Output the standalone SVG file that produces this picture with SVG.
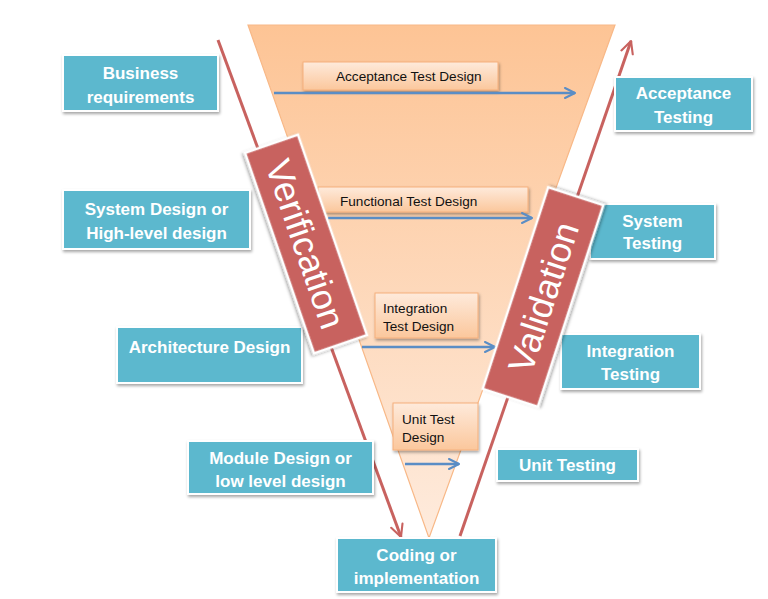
<svg xmlns="http://www.w3.org/2000/svg" width="768" height="599" viewBox="0 0 768 599">
<defs>
<linearGradient id="funnel" x1="0" y1="0" x2="0" y2="1">
<stop offset="0" stop-color="#FDC495"/>
<stop offset="1" stop-color="#FEEBDD"/>
</linearGradient>
<linearGradient id="obox" x1="0" y1="0" x2="0" y2="1">
<stop offset="0" stop-color="#FEEADB"/>
<stop offset="1" stop-color="#FBC79C"/>
</linearGradient>
<filter id="sh" x="-20%" y="-20%" width="140%" height="150%">
<feDropShadow dx="1" dy="2" stdDeviation="1.5" flood-color="#000" flood-opacity="0.35"/>
</filter>
<marker id="ab" viewBox="0 0 10 10" refX="9" refY="5" markerWidth="5" markerHeight="5" orient="auto" markerUnits="strokeWidth">
<path d="M1,1 L9,5 L1,9" fill="none" stroke="#5A8DC5" stroke-width="1.6" stroke-linecap="round" stroke-linejoin="round"/>
</marker>
<marker id="ar" viewBox="0 0 10 10" refX="9" refY="5" markerWidth="5" markerHeight="5" orient="auto" markerUnits="strokeWidth">
<path d="M1,1 L9,5 L1,9" fill="none" stroke="#C8625F" stroke-width="1.4" stroke-linecap="round" stroke-linejoin="round"/>
</marker>
</defs>
<style>
.bb{fill:#5CB8CE;stroke:#fff;stroke-width:2;filter:url(#sh)}
.bt{font-family:"Liberation Sans",Arial,sans-serif;font-weight:bold;font-size:17px;fill:#fff;text-anchor:middle}
.ob{fill:url(#obox);stroke:#F5B07C;stroke-width:1;filter:url(#sh)}
.ot{font-family:"Liberation Sans",Arial,sans-serif;font-size:13.6px;fill:#111}
.rb{fill:#C8625F;stroke:#fff;stroke-width:2.5;filter:url(#sh)}
.rt{font-family:"Liberation Sans",Arial,sans-serif;font-size:36px;fill:#fff;text-anchor:middle}
.ba{stroke:#5A8DC5;stroke-width:2.5;fill:none;marker-end:url(#ab)}
.ra{stroke:#C8625F;stroke-width:3;fill:none;marker-end:url(#ar)}
</style>
<rect width="768" height="599" fill="#fff"/>
<g id="funnel-shape">
<polygon points="248,25 615,25 429,538" fill="url(#funnel)" stroke="#F8B887" stroke-width="1.2"/>
</g>
<g id="acceptance-test-design"><rect class="ob" x="303" y="62" width="195" height="28"/><text class="ot" x="336" y="81">Acceptance Test Design</text></g>
<g id="functional-test-design"><rect class="ob" x="318" y="187" width="210" height="25"/><text class="ot" x="340" y="206">Functional Test Design</text></g>
<g id="integration-test-design"><rect class="ob" x="375" y="293" width="103" height="45"/><text class="ot" x="383" y="313">Integration</text><text class="ot" x="383" y="331">Test Design</text></g>
<g id="unit-test-design"><rect class="ob" x="393" y="403" width="85" height="47"/><text class="ot" x="402" y="424">Unit Test</text><text class="ot" x="402" y="442">Design</text></g>
<g id="connectors">
<line class="ba" x1="274" y1="93" x2="575" y2="93"/>
<line class="ba" x1="328" y1="218" x2="532" y2="218"/>
<line class="ba" x1="362" y1="347" x2="495" y2="347"/>
<line class="ba" x1="405" y1="464" x2="459" y2="464"/>
<line class="ra" x1="218" y1="40" x2="401" y2="537"/>
<line class="ra" x1="460" y1="536" x2="631" y2="41"/>
</g>
<g id="business-requirements"><rect class="bb" x="63" y="55" width="155" height="56"/><text class="bt" x="140.5" y="79">Business</text><text class="bt" x="140.5" y="103">requirements</text></g>
<g id="system-design"><rect class="bb" x="63" y="190" width="187" height="59"/><text class="bt" x="156.5" y="215">System Design or</text><text class="bt" x="156.5" y="239">High-level design</text></g>
<g id="architecture-design"><rect class="bb" x="117" y="327" width="185" height="56"/><text class="bt" x="209.5" y="353">Architecture Design</text></g>
<g id="module-design"><rect class="bb" x="188" y="441" width="185" height="53"/><text class="bt" x="280.5" y="464">Module Design or</text><text class="bt" x="280.5" y="487">low level design</text></g>
<g id="coding"><rect class="bb" x="337" y="538" width="159" height="54"/><text class="bt" x="416.5" y="561">Coding or</text><text class="bt" x="416.5" y="584">implementation</text></g>
<g id="acceptance-testing"><rect class="bb" x="615" y="77" width="137" height="54"/><text class="bt" x="683.5" y="99">Acceptance</text><text class="bt" x="683.5" y="123">Testing</text></g>
<g id="system-testing"><rect class="bb" x="590" y="204" width="125" height="55"/><text class="bt" x="652.5" y="227">System</text><text class="bt" x="652.5" y="249">Testing</text></g>
<g id="integration-testing"><rect class="bb" x="561" y="334" width="139" height="55"/><text class="bt" x="630.5" y="357">Integration</text><text class="bt" x="630.5" y="380">Testing</text></g>
<g id="unit-testing"><rect class="bb" x="497" y="449" width="141" height="32"/><text class="bt" x="567.5" y="471">Unit Testing</text></g>
<g id="verification" transform="translate(306,244) rotate(71)"><rect class="rb" x="-106" y="-28" width="212" height="56"/><text class="rt" x="0" y="13">Verification</text></g>
<g id="validation" transform="translate(543,297) rotate(-72)"><rect class="rb" x="-106" y="-29" width="212" height="58"/><text class="rt" x="0" y="13">Validation</text></g>
</svg>
